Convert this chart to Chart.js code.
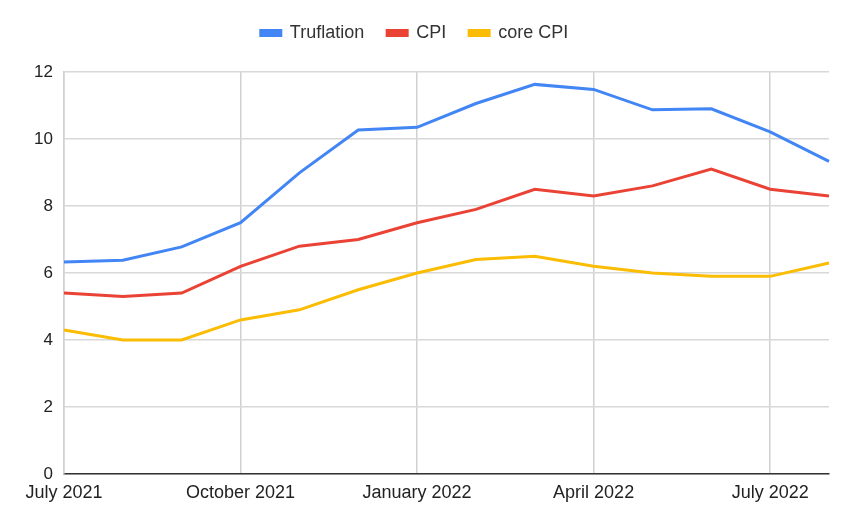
<!DOCTYPE html>
<html>
<head>
<meta charset="utf-8">
<script src="https://cdn.jsdelivr.net/npm/chart.js@4"></script>
<style>
    html, body { margin: 0; padding: 0; background: #fff; }
    #wrap { width: 850px; height: 525px; }
</style>
</head>
<body>
<div id="wrap"><canvas id="chart"></canvas></div>
<script>
const months = [
    'July 2021', 'August 2021', 'September 2021', 'October 2021', 'November 2021', 'December 2021',
    'January 2022', 'February 2022', 'March 2022', 'April 2022', 'May 2022', 'June 2022',
    'July 2022', 'August 2022'
];
const truflation = [6.33, 6.38, 6.78, 7.5, 8.99, 10.27, 10.35, 11.06, 11.63, 11.48, 10.87, 10.9, 10.21, 9.33];
const cpi = [5.4, 5.3, 5.4, 6.2, 6.8, 7.0, 7.5, 7.9, 8.5, 8.3, 8.6, 9.1, 8.5, 8.3];
const coreCpi = [4.3, 4.0, 4.0, 4.6, 4.9, 5.5, 6.0, 6.4, 6.5, 6.2, 6.0, 5.9, 5.9, 6.3];
const shownMonths = ['July 2021', 'October 2021', 'January 2022', 'April 2022', 'July 2022'];

const font = "Arial, 'Liberation Sans', sans-serif";

// extra room under the legend
const legendGap = {
    id: 'legendGap',
    beforeInit(chart) {
        const fit = chart.legend.fit;
        chart.legend.fit = function () {
            fit.bind(chart.legend)();
            this.height += 20;
        };
    }
};

new Chart(document.getElementById('chart'), {
    type: 'line',
    data: {
        labels: months,
        datasets: [
            { label: 'Truflation', data: truflation, borderColor: '#4285f4', backgroundColor: '#4285f4' },
            { label: 'CPI', data: cpi, borderColor: '#ea4335', backgroundColor: '#ea4335' },
            { label: 'core CPI', data: coreCpi, borderColor: '#fbbc04', backgroundColor: '#fbbc04' }
        ]
    },
    options: {
        responsive: true,
        maintainAspectRatio: false,
        animation: false,
        layout: { padding: { left: 0, right: 21, top: 1, bottom: 0 } },
        elements: {
            line: { borderWidth: 3, tension: 0 },
            point: { radius: 0 }
        },
        plugins: {
            legend: {
                position: 'top',
                labels: {
                    boxWidth: 20,
                    boxHeight: 5,
                    padding: 23,
                    color: '#333',
                    font: { family: font, size: 18 }
                }
            },
            tooltip: { enabled: false }
        },
        scales: {
            x: {
                offset: false,
                grid: { color: '#d0d0d0', lineWidth: 1.5, drawTicks: false },
                border: { color: '#333', width: 1.5 },
                ticks: {
                    autoSkip: false,
                    maxRotation: 0,
                    padding: 8,
                    color: '#222',
                    font: { family: font, size: 18 },
                    callback: function (value) {
                        const label = this.getLabelForValue(value);
                        return shownMonths.includes(label) ? label : null;
                    }
                },
                afterFit: (scale) => { scale.height = 51; }
            },
            y: {
                min: 0,
                max: 12,
                grid: { color: '#d8d8d8', lineWidth: 1.5, drawTicks: false },
                border: { color: '#d0d0d0', width: 1.5 },
                ticks: {
                    stepSize: 2,
                    padding: 11,
                    color: '#222',
                    font: { family: font, size: 17 }
                },
                afterFit: (scale) => { scale.width = 64; }
            }
        }
    },
    plugins: [legendGap]
});
</script>
</body>
</html>
